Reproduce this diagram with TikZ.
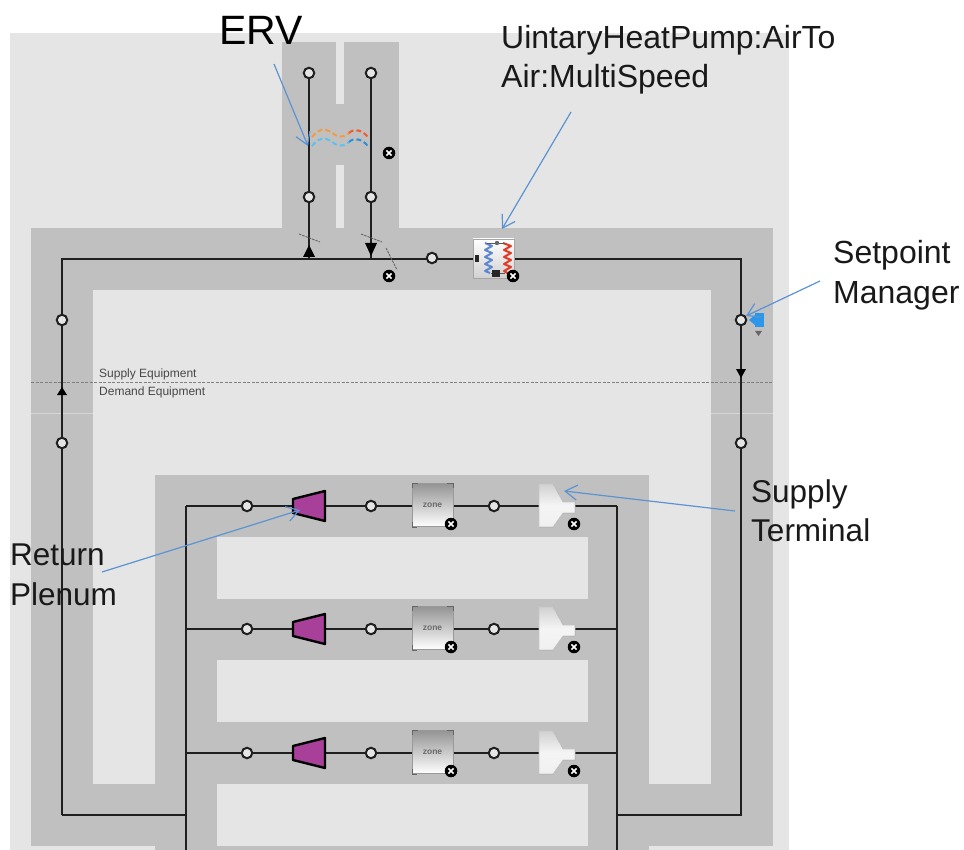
\documentclass[tikz,border=0pt]{standalone}
\usepackage{fontspec}
\setmainfont{Liberation Sans}
\usetikzlibrary{arrows.meta}
\definecolor{bgl}{HTML}{E5E5E5}
\definecolor{band}{HTML}{C0C0C0}
\definecolor{callout}{HTML}{5B93D3}
\definecolor{plum}{HTML}{A8409A}
\definecolor{wo}{HTML}{F59A3C}
\definecolor{wr}{HTML}{F2592B}
\definecolor{wb}{HTML}{5CC0F0}
\definecolor{wd}{HTML}{2E8FD8}
\definecolor{coilb}{HTML}{5B86D0}
\definecolor{coilr}{HTML}{E23A25}
\definecolor{spm}{HTML}{2A97EA}
\tikzset{
  x=1pt,y=-1pt,
  pipe/.style={black!88,line width=2.1pt},
  portc/.style={circle,draw=black!88,line width=2pt,fill=bgl,minimum size=10.5pt,inner sep=0pt},
  junct/.style={inner sep=0pt,minimum size=0pt},
  xmark/.style={circle,fill=black,minimum size=12.5pt,inner sep=0pt,
    path picture={\draw[white,line width=1.5pt]
      ([xshift=-2.6pt,yshift=-2.6pt]path picture bounding box.center)--([xshift=2.6pt,yshift=2.6pt]path picture bounding box.center)
      ([xshift=-2.6pt,yshift=2.6pt]path picture bounding box.center)--([xshift=2.6pt,yshift=-2.6pt]path picture bounding box.center);}},
  flowtip/.style={fill=black,draw=none},
  tick/.style={draw=black!60,line width=.9pt,dash pattern=on 2.5pt off 1pt},
  note/.style={font=\fontsize{32}{40}\selectfont,anchor=west,inner sep=0pt,text=black!90},
  notes/.style={font=\fontsize{31.5}{40}\selectfont,anchor=west,inner sep=0pt,text=black!90},
  small/.style={font=\fontsize{12}{14}\selectfont,anchor=west,inner sep=0pt,text=black!72},
  callarrow/.style={draw=callout,line width=1.2pt,-{Straight Barb[length=12pt,width=15pt,line width=1.2pt]}},
  zonebox/.style={draw=black!40,line width=.5pt,top color=black!42,bottom color=white,minimum width=41pt,minimum height=43pt,inner sep=0pt,font=\bfseries\fontsize{8.5}{10}\selectfont,text=black!58},
  plumshape/.style={fill=plum,draw=black,line width=2.4pt,line join=round},
  termshape/.style={draw=black!22,line width=.7pt,top color=black!18,bottom color=black!6,middle color=black!4},
}
\begin{document}
\begin{tikzpicture}
\useasboundingbox (0,0) rectangle (964,850);
\fill[white] (0,0) rectangle (964,850);
\fill[bgl] (10,33) rectangle (789,850);
% duct bands
\fill[band] (282,42) rectangle (336,228);
\fill[band] (344,42) rectangle (399,228);
\fill[band] (336,104) rectangle (344,165);
\fill[band] (31,228) rectangle (773,846);
\fill[bgl] (93,290) rectangle (711,784);
\fill[band] (155,475) rectangle (649,850);
\fill[band] (93,784) rectangle (155,846);
\fill[band] (649,784) rectangle (711,846);
\fill[bgl] (217,537) rectangle (588,599);
\fill[bgl] (217,660) rectangle (588,722);
\fill[bgl] (217,784) rectangle (588,846);
\draw[bgl!60!band,line width=.7pt] (31,413)--(93,413) (711,413)--(773,413);
% supply/demand divider
\coordinate (divL) at (31,382);
\coordinate (divR) at (773,382);
\draw[black!50,line width=1pt,dash pattern=on 3pt off 1.5pt] (divL)--(divR);
\node[small] (lblS) at (99,374) {Supply Equipment};
\node[small] (lblD) at (99,392.5) {Demand Equipment};
% junctions
\node[junct] (jA) at (309,259) {};
\node[junct] (jB) at (371,259) {};
\node[junct] (cTL) at (62,259) {};
\node[junct] (cTR) at (741,259) {};
\node[junct] (cBL) at (62,815) {};
\node[junct] (cBR) at (741,815) {};
\node[junct] (dL) at (186,815) {};
\node[junct] (dR) at (617,815) {};
\node[junct] (dLb) at (186,850) {};
\node[junct] (dRb) at (617,850) {};
\node[junct] (r1L) at (186,506) {};
\node[junct] (r1R) at (617,506) {};
\node[junct] (r2L) at (186,629) {};
\node[junct] (r2R) at (617,629) {};
\node[junct] (r3L) at (186,753) {};
\node[junct] (r3R) at (617,753) {};
% pipes
\draw[pipe,line join=miter] (cBL.center)--(cTL.center)--(cTR.center)--(cBR.center)--(dR.center);
\draw[pipe] (cBL.center)--(dL.center);
\draw[pipe] (r1L.center)--(dLb.center) (r1R.center)--(dRb.center);
\draw[pipe] (r1L.center)--(r1R.center) (r2L.center)--(r2R.center) (r3L.center)--(r3R.center);
\node[portc] (pA1) at (309,73) {};
\node[portc] (pB1) at (371,73) {};
\node[portc] (pA2) at (309,197) {};
\node[portc] (pB2) at (371,197) {};
\draw[pipe] (pA1)--(pA2) (pA2)--(jA.center) (pB1)--(pB2) (pB2)--(jB.center);
\node[portc] (pM) at (432,258) {};
\node[portc] (pL1) at (62,320) {};
\node[portc] (pL2) at (62,443) {};
\node[portc] (pR1) at (741,320) {};
\node[portc] (pR2) at (741,443) {};
% flow arrows
\fill[flowtip] (309,245)--(315,257)--(303,257)--cycle;
\fill[flowtip] (365,243)--(377,243)--(371,256)--cycle;
\fill[flowtip] (62,387)--(67,395)--(57,395)--cycle;
\fill[flowtip] (736,369)--(746,369)--(741,378)--cycle;
% dampers
\draw[tick] (299,234)--(320,242);
\draw[tick] (361,234)--(382,242);
\draw[tick] (386,248)--(397,270);
% ERV waves
\draw[wo,line width=2pt,dash pattern=on 5pt off 3pt] (312,137) .. controls (318,129) and (325,128) .. (331,132) .. controls (336,137) and (343,139) .. (349,133);
\draw[wr,line width=2pt,dash pattern=on 5pt off 3pt] (349,133) .. controls (354,128) and (362,130) .. (368,137);
\draw[wb,line width=2pt,dash pattern=on 5pt off 3pt] (312,146) .. controls (318,138) and (325,137) .. (331,141) .. controls (336,146) and (343,148) .. (349,142);
\draw[wd,line width=2pt,dash pattern=on 5pt off 3pt] (349,142) .. controls (354,137) and (362,139) .. (368,146);
% heat pump
\node[draw=black!35,line width=.7pt,top color=white,bottom color=black!18,minimum width=41pt,minimum height=39pt,inner sep=0pt] (hp) at (493.5,258.5) {};
\draw[coilb,line width=2pt,line join=round] (485,243) -- (492,246) -- (485,250) -- (492,253) -- (485,257) -- (492,260) -- (485,264) -- (492,267) -- (485,271) -- (490,273);
\draw[coilr,line width=2pt,line join=round] (503,243) -- (511,246) -- (504,250) -- (511,253) -- (504,257) -- (511,260) -- (504,264) -- (511,267) -- (504,271) -- (509,274);
\draw[black!65,line width=.8pt] (487,243)--(505,243) (491,273)--(505,273);
\fill[black!85] (492,270) rectangle (500,277);
\fill[black!85] (475,255) rectangle (479,262);
\fill[black!60] (497,243) circle (2.2pt);
% plenums, zones, terminals
\foreach \n/\y in {1/506,2/629,3/753}{
  \node[portc] (a\n) at (247,\y) {};
  \node[portc] (b\n) at (371,\y) {};
  \node[portc] (c\n) at (494,\y) {};
  \filldraw[plumshape] (293,\y-7) -- (325,\y-15) -- (325,\y+15) -- (293,\y+7) -- cycle;
  \node[zonebox] (z\n) at (432.5,\y-1) {zone};
  \draw[black!60,line width=1pt] (412,\y-18)--(412,\y-23)--(418,\y-23) (447,\y-23)--(453,\y-23)--(453,\y-18) (412,\y+16)--(412,\y+21)--(417,\y+21);
  \filldraw[termshape] (539,\y-22) -- (553,\y-22) -- (563,\y-4) -- (575,\y-4) -- (575,\y+7) -- (563,\y+7) -- (553,\y+21) -- (539,\y+21) -- cycle;
  \node[xmark] (xz\n) at (451,\y+18) {};
  \node[xmark] (xt\n) at (574,\y+18) {};
}
% remove markers
\node[xmark] (x1) at (389,153) {};
\node[xmark] (x2) at (389,276) {};
\node[xmark] (x3) at (513,276) {};
% setpoint manager
\fill[spm] (755,313) rectangle (764,327);
\fill[spm] (755,315) -- (749,320) -- (755,325) -- cycle;
\fill[black!60] (755,331) -- (762,331) -- (758.5,336) -- cycle;
% text and callouts
\node[font=\fontsize{41}{44}\selectfont,anchor=west,inner sep=0pt,text=black] (tERV) at (219,30) {ERV};
\node[note] (tHP1) at (501,40) {UintaryHeatPump:AirTo};
\node[note] (tHP2) at (501,79) {Air:MultiSpeed};
\node[note] (tSM1) at (833,255) {Setpoint};
\node[note] (tSM2) at (833,296) {Manager};
\node[notes] (tST1) at (751,494) {Supply};
\node[notes] (tST2) at (751,530) {Terminal};
\node[notes] (tRP1) at (10,555) {Return};
\node[notes] (tRP2) at (10,594) {Plenum};
\coordinate (fERV) at (274,64);   \coordinate (hERV) at (308,146);
\coordinate (fHP) at (571,112);   \coordinate (hHP) at (502,229);
\coordinate (fSM) at (820,281);   \coordinate (hSM) at (746,316);
\coordinate (fST) at (735,511);   \coordinate (hST) at (564,491);
\coordinate (fRP) at (102,572);   \coordinate (hRP) at (300,510);
\draw[callarrow] (fERV)--(hERV);
\draw[callarrow] (fHP)--(hHP);
\draw[callarrow] (fSM)--(hSM);
\draw[callarrow] (fST)--(hST);
\draw[callarrow] (fRP)--(hRP);
\end{tikzpicture}
\end{document}
